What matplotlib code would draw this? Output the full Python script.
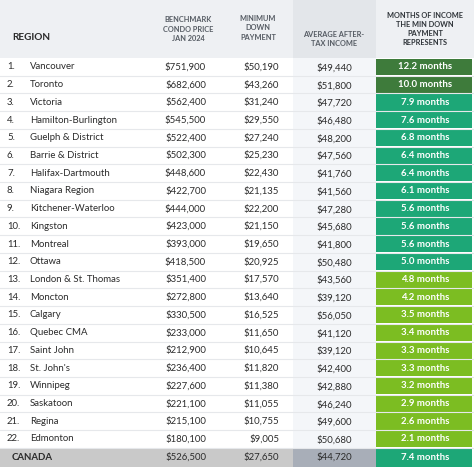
import numpy as np
import matplotlib
matplotlib.use("Agg")
import matplotlib.pyplot as plt

regions = ["Vancouver", "Toronto", "Victoria", "Hamilton-Burlington", "Guelph & District",
           "Barrie & District", "Halifax-Dartmouth", "Niagara Region", "Kitchener-Waterloo",
           "Kingston", "Montreal", "Ottawa", "London & St. Thomas", "Moncton", "Calgary",
           "Quebec CMA", "Saint John", "St. John's", "Winnipeg", "Saskatoon", "Regina",
           "Edmonton"]
prices = [751900, 682600, 562400, 545500, 522400, 502300, 448600, 422700, 444000,
          423000, 393000, 418500, 351400, 272800, 330500, 233000, 212900, 236400,
          227600, 221100, 215100, 180100]
down = [50190, 43260, 31240, 29550, 27240, 25230, 22430, 21135, 22200, 21150, 19650,
        20925, 17570, 13640, 16525, 11650, 10645, 11820, 11380, 11055, 10755, 9005]
income = [49440, 51800, 47720, 46480, 48200, 47560, 41760, 41560, 47280, 45680, 41800,
          50480, 43560, 39120, 56050, 41120, 39120, 42400, 42880, 46240, 49600, 50680]
months = [12.2, 10.0, 7.9, 7.6, 6.8, 6.4, 6.4, 6.1, 5.6, 5.6, 5.6, 5.0, 4.8, 4.2, 3.5,
          3.4, 3.3, 3.3, 3.2, 2.9, 2.6, 2.1]
canada = ("CANADA", 526500, 27650, 44720, 7.4)

DARK, MID, LIME = "#3e7b3b", "#1da777", "#7cbd22"
TXT = "#2b2b2b"
FONT = "Lato"


def mcolor(m):
    if m >= 10:
        return DARK
    if m >= 5:
        return MID
    return LIME


W, H = 474, 467
fig = plt.figure(figsize=(W / 100, H / 100), dpi=100)
ax = fig.add_axes([0, 0, 1, 1])
ax.set_xlim(0, W)
ax.set_ylim(H, 0)
ax.axis("off")

HEAD = 58
RH = 17.72
n = len(regions)
ys = HEAD + RH * (np.arange(n) + 0.5)

# header background
ax.add_patch(plt.Rectangle((0, 0), W, HEAD, color="#eef0f3", lw=0))
ax.add_patch(plt.Rectangle((293, 0), 83, HEAD, color="#e3e6ea", lw=0))
# income column body
ax.add_patch(plt.Rectangle((293, HEAD), 83, RH * n, color="#f4f6f9", lw=0))

# row separators
for i in range(n):
    ax.plot([0, W], [HEAD + RH * (i + 1)] * 2, color="#e6e8eb", lw=0.8)

hs = dict(fontsize=5.3, color="#555b63", fontweight="bold", family=FONT,
          ha="center", va="center", linespacing=1.35)
ax.text(12, 38, "REGION", fontsize=7.2, color=TXT, fontweight="bold",
        family=FONT, va="center")
ax.text(188, 29, "BENCHMARK\nCONDO PRICE\nJAN 2024", **hs)
ax.text(258, 28, "MINIMUM\nDOWN\nPAYMENT", **hs)
ax.text(334, 39, "AVERAGE AFTER-\nTAX INCOME", **hs)
hs["color"] = "#2e3338"
ax.text(425, 29, "MONTHS OF INCOME\nTHE MIN DOWN\nPAYMENT\nREPRESENTS", **hs)

# months cells as bars
ax.barh(ys, [96] * n, height=RH - 1.2, left=376,
        color=[mcolor(m) for m in months], lw=0)

rs = dict(fontsize=6.9, color=TXT, family=FONT, va="center")
for i in range(n):
    y = ys[i]
    ax.text(7, y, f"{i + 1}.", **rs)
    ax.text(30, y, regions[i], **rs)
    ax.text(206, y, f"${prices[i]:,}", ha="right", **rs)
    ax.text(279, y, f"${down[i]:,}", ha="right", **rs)
    ax.text(334, y + 1, f"${income[i]:,}", ha="center", **rs)
    ax.text(425, y, f"{months[i]:.1f} months", ha="center", fontsize=6.9,
            color="white", family=FONT, fontweight="bold", va="center")

# Canada row
cy0 = HEAD + RH * n
ch = H - cy0
cyc = cy0 + ch / 2
ax.add_patch(plt.Rectangle((0, cy0), 293, ch, color="#c9c9c9", lw=0))
ax.add_patch(plt.Rectangle((293, cy0), 83, ch, color="#a8aeb8", lw=0))
ax.barh([cyc], [96], height=ch, left=376, color=mcolor(canada[4]), lw=0)
ax.text(12, cyc, canada[0], fontsize=6.9, color=TXT, family=FONT,
        fontweight="bold", va="center")
ax.text(206, cyc, f"${canada[1]:,}", ha="right", **rs)
ax.text(279, cyc, f"${canada[2]:,}", ha="right", **rs)
ax.text(334, cyc, f"${canada[3]:,}", ha="center", **rs)
ax.text(425, cyc, f"{canada[4]:.1f} months", ha="center", fontsize=6.9,
        color="white", family=FONT, fontweight="bold", va="center")

fig.savefig("out.png", dpi=100)
